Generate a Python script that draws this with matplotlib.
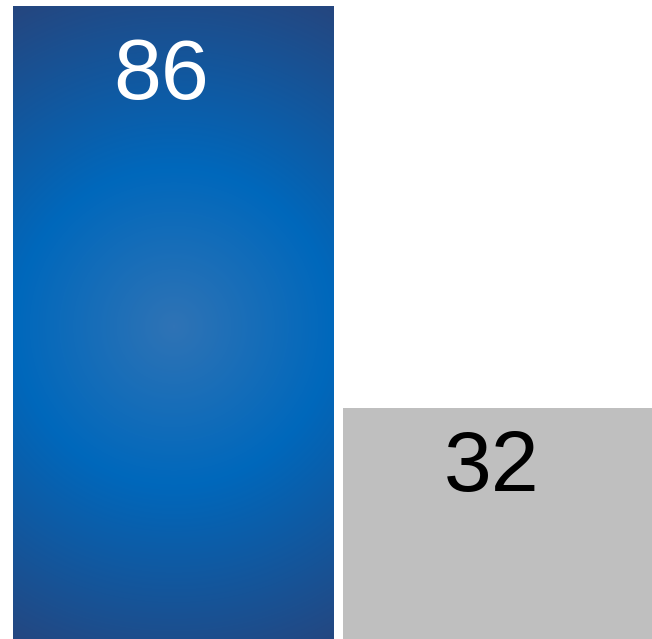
import numpy as np
import matplotlib
matplotlib.use('Agg')
import matplotlib.pyplot as plt
from matplotlib.colors import LinearSegmentedColormap

categories = ["A", "B"]
values = [86, 32]
label_colors = ["white", "black"]

W, H = 652, 639
fig = plt.figure(figsize=(W / 100, H / 100), dpi=100)
# axes runs a little past the bottom edge so the bars look clipped there
ax = fig.add_axes([13 / W, -7 / H, 1 - 13 / W, (H + 7 - 6) / H])
ax.set_axis_off()

w = 321 / 330
x = np.arange(len(values))
bars = ax.bar(x, values, width=w, color=["#0068bb", "#bfbfbf"], linewidth=0)
ax.set_xlim(-w / 2, -w / 2 + (W - 13) / 330)
ax.set_ylim(0, max(values))

# radial blue gradient on the first bar
cmap = LinearSegmentedColormap.from_list(
    "blu", [(0.0, "#2f73b5"), (0.44, "#0068bc"), (1.0, "#25467f")])
ny, nx = 640, 321
yy, xx = np.mgrid[0:ny, 0:nx]
r = np.hypot(xx - nx / 2, yy - ny / 2) / 358.0
b = bars[0]
im = ax.imshow(np.clip(r, 0, 1), cmap=cmap, vmin=0, vmax=1,
               extent=[b.get_x(), b.get_x() + b.get_width(), 0, b.get_height()],
               aspect='auto', origin='upper', interpolation='bilinear', zorder=3)
im.set_clip_path(b)

# label offsets below each bar top, in points
label_dy = [-22, -15]
for bar, v, c, dy in zip(bars, values, label_colors, label_dy):
    ax.annotate(str(v), (bar.get_x() + bar.get_width() / 2, bar.get_height()),
                xytext=(-12 * 0.72, dy), textcoords='offset points',
                ha='center', va='top', fontsize=62, color=c,
                family='Liberation Sans', zorder=5)

fig.savefig("out.png", dpi=100)
